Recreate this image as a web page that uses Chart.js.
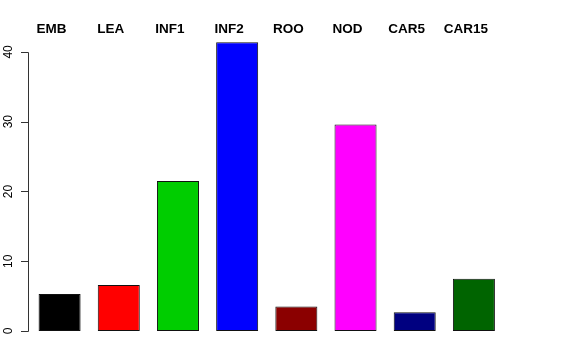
<!DOCTYPE html>
<html>
<head>
<meta charset="utf-8">
<script src="https://cdn.jsdelivr.net/npm/chart.js@4/dist/chart.umd.min.js"></script>
<style>
  html, body { margin: 0; padding: 0; background: #fff; }
  #wrap { width: 576px; height: 360px; }
</style>
</head>
<body>
<div id="wrap"><canvas id="chart" width="576" height="360"></canvas></div>
<script>
const categories = ["EMB", "LEA", "INF1", "INF2", "ROO", "NOD", "CAR5", "CAR15"];
const values = [5.3, 6.6, 21.5, 41.4, 3.5, 29.6, 2.7, 7.5];
const yTicks = [0, 10, 20, 30, 40];

const barColors = ["#000000", "#FF0000", "#00CD00", "#0000FF", "#8B0000", "#FF00FF", "#000080", "#006400"];
const font = '"Liberation Sans", Arial, sans-serif';

// R-style axis: line only between first and last tick, rotated labels, category names on top
const baseAxes = {
  id: "baseAxes",
  afterDraw(chart) {
    const ctx = chart.ctx;
    const y = chart.scales.y;
    const x = chart.scales.x;
    const ax = 28.5;

    ctx.save();
    ctx.strokeStyle = "#333";
    ctx.lineWidth = 1;
    ctx.beginPath();
    ctx.moveTo(ax, Math.round(y.getPixelForValue(yTicks[0])) + 0.5);
    ctx.lineTo(ax, Math.round(y.getPixelForValue(yTicks[yTicks.length - 1])) + 0.5);
    yTicks.forEach(t => {
      const py = Math.round(y.getPixelForValue(t)) + 0.5;
      ctx.moveTo(ax, py);
      ctx.lineTo(21, py);
    });
    ctx.stroke();

    ctx.fillStyle = "#000";
    ctx.font = "12px " + font;
    ctx.textAlign = "center";
    ctx.textBaseline = "middle";
    yTicks.forEach(t => {
      ctx.save();
      ctx.translate(8.5, y.getPixelForValue(t));
      ctx.rotate(-Math.PI / 2);
      ctx.fillText(String(t), 0, 0);
      ctx.restore();
    });

    // names sit a little left of the bar centres in the original
    ctx.font = "bold 13.5px " + font;
    categories.forEach((c, i) => {
      ctx.fillText(c, x.getPixelForValue(i) - 8, 29.5);
    });
    ctx.restore();
  }
};

new Chart(document.getElementById("chart"), {
  type: "bar",
  data: {
    labels: categories,
    datasets: [{
      data: values,
      backgroundColor: barColors,
      borderColor: "#111",
      borderWidth: 1,
      borderSkipped: false,
      categoryPercentage: 1,
      barPercentage: 0.71
    }]
  },
  options: {
    responsive: false,
    animation: false,
    layout: {
      padding: { left: 30, right: 72.5, top: 24, bottom: 29 }
    },
    plugins: {
      legend: { display: false },
      tooltip: { enabled: false }
    },
    scales: {
      x: { display: false },
      y: { display: false, min: 0, max: 44 }
    }
  },
  plugins: [baseAxes]
});
</script>
</body>
</html>
